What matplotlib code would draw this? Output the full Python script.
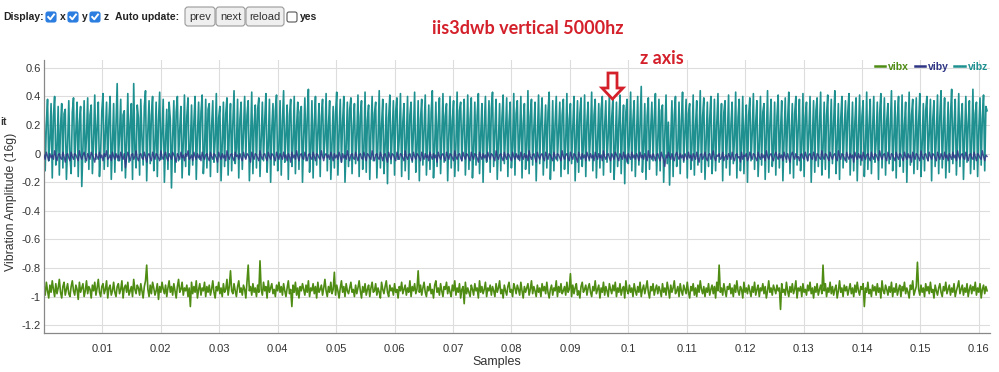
import numpy as np
import matplotlib
matplotlib.use('Agg')
import matplotlib.pyplot as plt
from matplotlib.patches import FancyBboxPatch, Polygon
from matplotlib.lines import Line2D
from matplotlib.transforms import IdentityTransform

# values, ~800 samples over ~0.1614 s
vibz = [
    0.30, -0.12, 0.21, 0.38, -0.05, 0.10, 0.35, -0.17, 0.26, 0.40, -0.08, 0.02, 0.33, -0.15, 0.19, 0.35, -0.10, 0.28, 0.31, -0.18,
    0.06, 0.37, -0.02, -0.14, 0.29, 0.39, -0.09, 0.15, 0.36, -0.16, 0.22, 0.33, -0.23, 0.04, 0.37, -0.06, 0.12, 0.39, -0.11, 0.27,
    0.34, -0.14, 0.09, 0.41, -0.04, 0.18, 0.36, -0.16, 0.01, 0.30, 0.42, -0.11, 0.14, 0.36, -0.09, 0.24, 0.40, -0.18, 0.07, 0.35,
    -0.13, 0.20, 0.49, -0.05, 0.13, 0.38, -0.12, 0.27, 0.30, -0.17, 0.08, 0.42, -0.06, 0.21, 0.35, -0.18, 0.49, 0.03, -0.10, 0.34,
    0.25, -0.15, 0.38, 0.11, -0.08, 0.33, 0.44, -0.19, 0.16, 0.37, -0.07, 0.27, 0.40, -0.12, 0.06, 0.36, -0.16, 0.23, 0.43, -0.04,
    0.14, 0.38, -0.20, 0.09, 0.31, -0.11, 0.36, 0.24, -0.24, 0.12, 0.37, -0.13, 0.29, 0.40, -0.05, 0.17, 0.33, -0.17, 0.08, 0.41,
    -0.09, 0.26, 0.39, -0.15, 0.05, 0.34, -0.08, 0.22, 0.40, -0.18, 0.13, 0.36, -0.04, 0.29, 0.41, -0.14, 0.02, 0.38, -0.10, 0.31,
    0.35, -0.16, 0.19, 0.37, -0.06, 0.10, 0.42, -0.13, 0.25, 0.33, -0.19, 0.07, 0.36, -0.09, 0.28, 0.39, -0.15, 0.16, 0.35, -0.12,
    0.21, 0.44, -0.07, 0.04, 0.38, -0.17, 0.24, 0.36, -0.11, 0.15, 0.40, -0.03, 0.27, 0.37, -0.19, 0.09, 0.43, -0.14, 0.20, 0.34,
    -0.10, 0.31, 0.39, -0.16, 0.11, 0.36, -0.05, 0.23, 0.42, -0.13, 0.06, 0.38, -0.20, 0.17, 0.35, -0.08, 0.30, 0.41, -0.12, 0.03,
    0.37, -0.15, 0.22, 0.44, -0.06, 0.13, 0.34, -0.18, 0.27, 0.38, -0.09, 0.08, 0.40, -0.14, 0.19, 0.36, -0.11, 0.29, 0.33, -0.20,
    0.12, 0.39, -0.05, 0.24, 0.45, -0.13, 0.04, 0.37, -0.17, 0.21, 0.40, -0.08, 0.15, 0.35, -0.16, 0.26, 0.38, -0.03, 0.10, 0.42,
    -0.12, 0.20, 0.37, -0.18, 0.07, 0.33, -0.10, 0.28, 0.43, -0.15, 0.14, 0.38, -0.06, 0.22, 0.40, -0.20, 0.05, 0.36, -0.09, 0.31,
    0.39, -0.14, 0.18, 0.35, -0.07, 0.12, 0.41, -0.16, 0.26, 0.37, -0.11, 0.02, 0.43, -0.13, 0.23, 0.34, -0.18, 0.16, 0.40, -0.05,
    0.28, 0.36, -0.17, 0.09, 0.44, -0.10, 0.20, 0.38, -0.14, 0.06, 0.35, -0.21, 0.25, 0.41, -0.07, 0.13, 0.37, -0.15, 0.30, 0.39,
    -0.04, 0.11, 0.42, -0.16, 0.22, 0.35, -0.12, 0.08, 0.40, -0.18, 0.27, 0.36, -0.06, 0.15, 0.43, -0.13, 0.04, 0.37, -0.19, 0.24,
    0.38, -0.08, 0.17, 0.41, -0.15, 0.10, 0.34, -0.11, 0.29, 0.44, -0.17, 0.05, 0.36, -0.09, 0.21, 0.39, -0.14, 0.12, 0.42, -0.06,
    0.26, 0.35, -0.19, 0.14, 0.40, -0.10, 0.23, 0.37, -0.16, 0.07, 0.43, -0.12, 0.30, 0.36, -0.05, 0.18, 0.38, -0.15, 0.09, 0.41,
    -0.11, 0.24, 0.39, -0.17, 0.03, 0.36, -0.08, 0.27, 0.42, -0.14, 0.13, 0.35, -0.20, 0.19, 0.40, -0.06, 0.10, 0.37, -0.13, 0.32,
    0.43, -0.09, 0.16, 0.38, -0.18, 0.08, 0.35, -0.12, 0.25, 0.41, -0.07, 0.14, 0.39, -0.16, 0.22, 0.36, -0.10, 0.05, 0.42, -0.15,
    0.28, 0.37, -0.04, 0.12, 0.40, -0.17, 0.21, 0.35, -0.11, 0.06, 0.44, -0.14, 0.26, 0.38, -0.08, 0.17, 0.36, -0.19, 0.10, 0.41,
    -0.07, 0.23, 0.39, -0.15, 0.13, 0.34, -0.10, 0.29, 0.43, -0.18, 0.04, 0.37, -0.12, 0.20, 0.40, -0.05, 0.15, 0.36, -0.16, 0.27,
    0.38, -0.11, 0.09, 0.42, -0.14, 0.24, 0.35, -0.07, 0.18, 0.40, -0.19, 0.11, 0.37, -0.13, 0.28, 0.39, -0.09, 0.06, 0.41, -0.16,
    0.22, 0.36, -0.05, 0.14, 0.43, -0.12, 0.27, 0.38, -0.17, 0.08, 0.35, -0.10, 0.31, 0.40, -0.15, 0.19, 0.37, -0.06, 0.12, 0.42,
    -0.13, 0.25, 0.39, -0.18, 0.05, 0.36, -0.09, 0.21, 0.41, -0.14, 0.16, 0.34, -0.21, 0.29, 0.38, -0.07, 0.10, 0.43, -0.12, 0.23,
    0.37, -0.16, 0.13, 0.40, -0.08, 0.20, 0.47, -0.13, 0.06, 0.35, -0.18, 0.26, 0.39, -0.11, 0.17, 0.36, -0.05, 0.24, 0.42, -0.15,
    0.09, 0.38, -0.12, 0.30, 0.34, -0.20, 0.14, 0.41, -0.07, 0.22, -0.22, 0.11, 0.37, -0.16, 0.27, 0.40, -0.09, 0.04, 0.36, -0.14,
    0.23, 0.43, -0.06, 0.15, 0.38, -0.17, 0.28, 0.35, -0.11, 0.07, 0.41, -0.15, 0.19, 0.37, -0.08, 0.12, 0.44, -0.13, 0.26, 0.39,
    -0.18, 0.10, 0.36, -0.09, 0.24, 0.40, -0.14, 0.05, 0.38, -0.12, 0.21, 0.42, -0.06, 0.16, 0.35, -0.19, 0.29, 0.37, -0.10, 0.13,
    0.41, -0.15, 0.20, 0.36, -0.07, 0.11, 0.43, -0.17, 0.25, 0.38, -0.12, 0.08, 0.40, -0.14, 0.18, 0.34, -0.20, 0.27, 0.39, -0.05,
    0.14, 0.42, -0.11, 0.22, 0.37, -0.16, 0.06, 0.40, -0.08, 0.29, 0.35, -0.18, 0.12, 0.44, -0.13, 0.20, 0.38, -0.09, 0.03, 0.36,
    -0.15, 0.26, 0.41, -0.10, 0.16, 0.37, -0.19, 0.09, 0.39, -0.06, 0.23, 0.43, -0.14, 0.13, 0.35, -0.17, 0.28, 0.40, -0.08, 0.18,
    0.38, -0.12, 0.07, 0.42, -0.16, 0.25, 0.36, -0.05, 0.15, 0.40, -0.20, 0.11, 0.37, -0.13, 0.30, 0.39, -0.09, 0.19, 0.43, -0.15,
    0.04, 0.36, -0.11, 0.27, 0.41, -0.17, 0.12, 0.38, -0.07, 0.21, 0.44, -0.14, 0.08, 0.35, -0.18, 0.24, 0.40, -0.10, 0.16, 0.37,
    -0.06, 0.29, 0.42, -0.15, 0.10, 0.36, -0.12, 0.22, 0.39, -0.19, 0.14, 0.41, -0.08, 0.26, 0.37, -0.16, 0.05, 0.43, -0.11, 0.20,
    0.38, -0.14, 0.17, 0.40, -0.06, 0.09, 0.36, -0.18, 0.28, 0.42, -0.10, 0.13, 0.39, -0.15, 0.23, 0.35, -0.07, 0.18, 0.44, -0.12,
    0.11, 0.37, -0.17, 0.25, 0.40, -0.09, 0.06, 0.41, -0.13, 0.20, 0.36, -0.20, 0.15, 0.43, -0.08, 0.27, 0.38, -0.14, 0.10, 0.39,
    -0.11, 0.22, 0.42, -0.16, 0.07, 0.35, -0.12, 0.30, 0.40, -0.05, 0.14, 0.38, -0.19, 0.24, 0.37, -0.09, 0.12, 0.41, -0.14, 0.26,
    0.44, -0.10, 0.16, 0.39, -0.17, 0.08, 0.36, -0.13, 0.27, 0.45, -0.07, 0.19, 0.38, -0.15, 0.11, 0.42, -0.09, 0.23, 0.35, -0.18,
    0.13, 0.40, -0.06, 0.21, 0.37, -0.14, 0.09, 0.45, -0.11, 0.28, 0.36, -0.16, 0.17, 0.39, -0.08, 0.25, 0.41, -0.12, 0.33, 0.30,
]

viby = [
    -0.01, -0.04, 0.01, -0.02, -0.05, 0.00, -0.03, -0.01, -0.04, 0.02, -0.02, -0.05, -0.01, 0.00, -0.03, -0.04, 0.01, -0.02, -0.06, -0.01,
    0.00, -0.03, -0.05, 0.01, -0.02, -0.04, 0.00, -0.01, -0.03, -0.05, 0.02, -0.02, -0.04, -0.01, 0.01, -0.03, -0.05, 0.00, -0.02, -0.04,
    0.01, -0.01, -0.03, -0.06, 0.00, -0.02, -0.04, 0.01, -0.03, -0.01, -0.05, 0.00, -0.02, 0.02, -0.04, -0.03, -0.01, -0.05, 0.01, -0.02,
    -0.04, 0.00, -0.03, -0.01, -0.05, 0.01, -0.02, -0.04, 0.00, -0.10, -0.03, 0.01, -0.02, -0.05, -0.01, 0.00, -0.04, -0.02, 0.02, -0.03,
    -0.05, -0.01, 0.00, -0.03, -0.04, 0.01, -0.02, -0.06, -0.01, 0.00, -0.03, -0.05, 0.01, -0.02, -0.04, 0.00, -0.01, -0.03, -0.05, 0.02,
    -0.02, -0.04, -0.01, 0.01, -0.03, -0.05, 0.00, -0.02, -0.04, 0.01, -0.01, -0.03, -0.06, 0.00, -0.02, -0.04, 0.01, -0.03, -0.01, -0.05,
    0.00, -0.02, 0.02, -0.04, -0.03, -0.01, -0.05, 0.01, -0.02, -0.04, 0.00, -0.03, -0.01, -0.05, 0.01, -0.02, -0.04, -0.01, 0.00, -0.03,
    -0.05, 0.01, -0.02, -0.04, 0.00, -0.01, -0.03, -0.06, 0.01, -0.02, -0.04, 0.00, -0.03, -0.01, -0.05, 0.02, -0.02, -0.04, -0.01, 0.00,
    -0.03, -0.05, 0.01, -0.02, -0.01, -0.04, 0.00, -0.03, -0.05, 0.01, -0.02, -0.04, 0.00, -0.01, -0.03, -0.06, 0.01, -0.02, -0.04, 0.00,
    -0.01, -0.03, -0.05, 0.02, -0.02, -0.04, -0.01, 0.00, -0.03, -0.05, 0.01, -0.02, -0.04, 0.00, -0.01, -0.03, -0.05, 0.01, -0.02, -0.04,
    0.00, -0.02, -0.04, 0.01, -0.03, -0.01, -0.05, 0.00, -0.02, -0.06, 0.01, -0.03, -0.01, -0.04, 0.02, -0.02, -0.05, -0.01, 0.00, -0.03,
    -0.04, 0.01, -0.02, -0.05, -0.01, 0.00, -0.03, -0.04, 0.01, -0.02, -0.05, 0.00, -0.01, -0.03, -0.04, 0.02, -0.02, -0.05, -0.01, 0.00,
    -0.03, -0.01, -0.04, 0.01, -0.02, -0.05, 0.00, -0.03, -0.01, -0.04, 0.01, -0.02, -0.06, 0.00, -0.03, -0.01, -0.04, 0.02, -0.02, -0.05,
    -0.01, 0.00, -0.03, -0.04, 0.01, -0.02, -0.05, -0.01, 0.00, -0.03, -0.04, 0.01, -0.02, -0.05, 0.00, -0.01, -0.03, -0.04, 0.02, -0.02,
    -0.05, -0.01, 0.00, -0.03, -0.04, 0.01, -0.02, -0.05, -0.01, 0.00, -0.03, -0.06, 0.01, -0.02, -0.04, 0.00, -0.01, -0.03, -0.05, 0.01,
    -0.02, -0.04, 0.00, -0.01, -0.03, -0.05, 0.02, -0.02, -0.04, -0.01, 0.00, -0.03, -0.05, 0.01, -0.02, -0.04, 0.00, -0.01, -0.03, -0.05,
    0.01, -0.02, -0.04, 0.00, -0.03, -0.01, -0.05, 0.01, -0.02, -0.04, 0.00, -0.03, -0.01, -0.06, 0.01, -0.02, -0.04, -0.01, 0.00, -0.03,
    -0.05, 0.01, -0.02, -0.04, 0.00, -0.01, -0.03, -0.05, 0.02, -0.02, -0.04, -0.01, 0.00, -0.03, -0.05, 0.01, -0.02, -0.04, 0.00, -0.01,
    -0.03, -0.05, 0.01, -0.02, -0.04, 0.00, -0.01, -0.03, -0.06, 0.01, -0.02, -0.04, 0.00, -0.03, -0.01, -0.05, 0.01, -0.02, -0.04, 0.00,
    -0.01, -0.03, -0.05, 0.02, -0.02, -0.04, -0.01, 0.00, -0.03, -0.05, 0.01, -0.02, -0.04, 0.00, -0.01, -0.03, -0.05, 0.01, -0.02, -0.04,
    0.00, -0.03, -0.01, -0.05, 0.01, -0.02, -0.04, 0.00, -0.03, -0.01, -0.05, 0.02, -0.02, -0.04, -0.01, 0.00, -0.03, -0.06, 0.01, -0.02,
    -0.04, -0.01, 0.00, -0.03, -0.05, 0.01, -0.02, -0.04, 0.00, -0.01, -0.03, -0.05, 0.01, -0.02, -0.04, 0.00, -0.01, -0.03, -0.05, 0.02,
    -0.02, -0.04, -0.01, 0.00, -0.03, -0.05, 0.01, -0.02, -0.04, 0.00, -0.01, -0.03, -0.06, 0.01, -0.02, -0.04, 0.00, -0.03, -0.01, -0.05,
    0.01, -0.02, -0.04, 0.00, -0.03, -0.01, -0.05, 0.01, -0.02, -0.04, 0.00, -0.03, -0.01, -0.05, 0.02, -0.02, -0.04, -0.01, 0.00, -0.03,
    -0.05, 0.00, -0.02, -0.04, 0.01, -0.01, -0.03, -0.05, 0.00, -0.02, -0.04, 0.01, -0.03, -0.01, -0.06, 0.00, -0.02, -0.04, 0.01, -0.03,
    -0.01, -0.04, 0.00, -0.02, -0.05, 0.01, -0.03, -0.01, -0.04, 0.00, -0.02, -0.05, 0.02, -0.03, -0.01, -0.04, 0.00, -0.02, -0.05, -0.01,
    0.00, -0.03, -0.05, 0.01, -0.02, -0.04, -0.09, -0.01, -0.03, 0.01, -0.02, -0.04, 0.00, -0.03, -0.05, -0.01, 0.01, -0.02, -0.04, 0.00,
    -0.03, -0.01, -0.05, 0.00, -0.02, -0.04, 0.01, -0.03, -0.01, -0.05, 0.00, -0.02, -0.04, 0.01, -0.03, -0.06, -0.01, 0.00, -0.04, -0.02,
    0.01, -0.03, -0.05, -0.01, 0.00, -0.04, -0.02, 0.02, -0.03, -0.05, -0.01, -0.02, 0.00, -0.04, -0.03, 0.01, -0.05, -0.02, -0.01, -0.04,
    0.00, -0.02, -0.04, 0.01, -0.03, -0.05, -0.01, 0.00, -0.03, -0.02, -0.06, 0.01, -0.04, -0.01, -0.02, 0.00, -0.05, -0.03, 0.01, -0.02,
    -0.04, 0.00, -0.01, -0.03, -0.05, 0.01, -0.02, -0.04, 0.00, -0.03, -0.01, -0.05, 0.02, -0.02, -0.04, -0.01, 0.00, -0.03, -0.05, -0.01,
    0.01, -0.02, -0.04, 0.00, -0.03, -0.01, -0.05, 0.01, -0.02, -0.04, 0.00, -0.03, -0.06, -0.01, 0.01, -0.02, -0.04, 0.00, -0.03, -0.02,
    -0.05, -0.01, 0.00, -0.03, -0.04, 0.01, -0.02, -0.05, -0.01, 0.00, -0.03, -0.04, 0.01, -0.02, -0.05, 0.00, -0.01, -0.03, -0.04, 0.02,
    -0.02, -0.04, 0.00, -0.01, -0.03, -0.05, 0.01, -0.02, -0.04, -0.01, 0.00, -0.03, -0.05, 0.02, -0.02, -0.04, 0.00, -0.01, -0.03, -0.05,
    0.01, -0.02, -0.04, 0.00, -0.03, -0.01, -0.06, 0.01, -0.02, -0.04, 0.00, -0.03, -0.01, -0.05, 0.01, -0.02, -0.04, -0.01, 0.00, -0.03,
    -0.05, 0.01, -0.02, -0.04, 0.00, -0.01, -0.03, -0.05, 0.02, -0.02, -0.04, -0.01, 0.00, -0.03, -0.05, 0.01, -0.02, -0.04, 0.00, -0.01,
    -0.03, -0.05, 0.01, -0.02, -0.04, 0.00, -0.01, -0.03, -0.05, 0.01, -0.02, -0.04, 0.00, -0.03, -0.01, -0.06, 0.01, -0.02, -0.04, 0.00,
    -0.01, -0.03, -0.05, 0.02, -0.02, -0.04, -0.01, 0.00, -0.03, -0.05, 0.01, -0.02, -0.04, 0.00, -0.01, -0.03, -0.05, 0.01, -0.02, -0.04,
    0.00, -0.02, -0.04, 0.01, -0.03, -0.01, -0.05, 0.00, -0.02, -0.04, 0.01, -0.03, -0.01, -0.05, 0.02, -0.02, -0.04, -0.01, 0.00, -0.03,
    -0.04, 0.01, -0.02, -0.05, -0.01, 0.00, -0.03, -0.04, 0.01, -0.02, -0.05, 0.00, -0.01, -0.03, -0.04, 0.02, -0.02, -0.05, -0.01, -0.02,
]

vibx = [
    -0.93, -0.99, -0.90, -0.96, -1.01, -0.92, -0.97, -0.89, -0.95, -1.00, -0.91, -0.98, -0.94, -0.88, -0.97, -1.01, -0.93, -0.90, -0.99, -0.95,
    -0.91, -0.98, -1.00, -0.93, -0.89, -0.96, -0.99, -0.92, -0.95, -1.02, -0.90, -0.97, -0.94, -0.91, -1.00, -0.96, -0.89, -0.98, -0.93, -0.95,
    -1.01, -0.92, -0.96, -0.90, -0.99, -0.94, -0.88, -0.97, -1.00, -0.93, -0.91, -0.98, -0.95, -0.89, -1.01, -0.94, -0.92, -0.99, -0.96, -0.90,
    -0.97, -1.00, -0.93, -0.91, -0.98, -0.95, -0.89, -1.01, -0.94, -0.92, -0.97, -0.90, -0.99, -0.96, -0.93, -1.00, -0.88, -0.95, -0.98, -0.92,
    -0.94, -0.99, -0.91, -0.96, -1.01, -0.93, -0.89, -0.78, -0.95, -1.00, -0.92, -0.98, -0.90, -0.94, -0.99, -0.96, -0.91, -1.02, -0.93, -0.97,
    -0.90, -0.95, -0.98, -0.92, -1.00, -0.94, -0.89, -0.97, -0.93, -0.99, -0.91, -0.96, -1.01, -0.93, -0.88, -0.97, -0.95, -0.90, -0.99, -0.94,
    -0.96, -0.92, -1.00, -0.94, -1.07, -0.90, -0.98, -0.93, -0.97, -0.89, -1.01, -0.95, -0.91, -0.99, -0.94, -0.96, -0.90, -1.00, -0.93, -0.97,
    -0.92, -0.99, -0.95, -0.89, -0.97, -1.01, -0.93, -0.96, -0.90, -0.98, -0.94, -1.00, -0.91, -0.97, -0.95, -0.88, -0.99, -0.93, -0.82, -0.96,
    -0.98, -0.91, -0.96, -1.00, -0.93, -0.89, -0.97, -0.94, -0.99, -0.92, -0.95, -1.01, -0.90, -0.78, -0.96, -0.93, -0.99, -0.91, -0.97, -0.94,
    -1.00, -0.92, -0.97, -0.75, -0.95, -0.99, -0.90, -0.96, -0.93, -1.01, -0.89, -0.97, -0.94, -0.91, -0.98, -0.95, -1.00, -0.92, -0.96, -0.90,
    -0.97, -0.93, -0.99, -0.91, -0.96, -1.00, -0.94, -0.89, -0.98, -0.95, -1.07, -0.92, -0.97, -0.90, -0.99, -0.94, -1.01, -0.93, -0.96, -0.91,
    -0.95, -0.99, -0.92, -0.97, -0.89, -1.00, -0.94, -0.96, -0.91, -0.98, -0.93, -1.01, -0.90, -0.97, -0.95, -0.92, -0.99, -0.94, -0.88, -0.96,
    -1.00, -0.93, -0.97, -0.90, -0.98, -0.95, -0.83, -0.99, -0.92, -0.96, -1.01, -0.94, -0.89, -0.97, -0.93, -1.00, -0.91, -0.96, -0.98, -0.94,
    -0.90, -0.97, -0.95, -1.00, -0.92, -0.98, -0.94, -0.89, -0.96, -1.01, -0.93, -0.97, -0.91, -0.99, -0.95, -0.92, -1.00, -0.94, -0.90, -0.97,
    -0.96, -0.91, -0.99, -0.94, -0.97, -1.01, -0.90, -0.95, -0.98, -0.93, -0.89, -0.97, -1.00, -0.92, -0.96, -0.94, -0.99, -0.91, -0.97, -0.95,
    -1.01, -0.93, -0.96, -0.90, -0.98, -0.95, -0.92, -0.99, -0.94, -0.97, -0.89, -1.00, -0.93, -0.96, -0.91, -0.98, -0.95, -0.82, -0.97, -0.92,
    -0.99, -0.94, -0.90, -0.97, -1.00, -0.93, -0.96, -0.91, -0.98, -0.95, -1.01, -0.92, -0.89, -0.97, -0.94, -0.99, -0.91, -0.96, -1.00, -0.93,
    -0.95, -0.90, -0.98, -0.93, -0.97, -1.00, -0.92, -0.96, -0.89, -0.99, -0.94, -0.97, -0.91, -1.01, -0.95, -0.93, -1.05, -0.90, -0.98, -0.94,
    -0.97, -1.00, -0.92, -0.95, -0.99, -0.91, -0.96, -0.94, -1.01, -0.89, -0.97, -0.93, -0.98, -0.95, -0.90, -1.00, -0.94, -0.96, -0.92, -0.99,
    -0.93, -0.96, -1.00, -0.91, -0.97, -0.94, -0.89, -0.98, -0.95, -1.01, -0.92, -0.96, -0.99, -0.93, -0.90, -0.97, -0.95, -1.00, -0.91, -0.94,
    -0.98, -0.92, -0.95, -0.99, -0.90, -0.96, -1.01, -0.93, -0.97, -0.94, -0.91, -0.99, -0.95, -0.89, -0.98, -0.93, -0.96, -1.00, -0.92, -0.97,
    -0.94, -1.00, -0.91, -0.96, -0.93, -0.98, -0.90, -0.97, -1.01, -0.95, -0.92, -0.99, -0.94, -0.96, -0.89, -1.00, -0.93, -0.97, -0.91, -0.98,
    -0.96, -0.93, -0.99, -0.90, -0.97, -0.95, -0.84, -1.00, -0.92, -0.98, -0.94, -0.91, -0.99, -0.96, -1.01, -0.93, -0.90, -0.97, -0.95, -0.92,
    -0.99, -0.94, -0.91, -0.97, -1.00, -0.93, -0.96, -0.89, -0.98, -0.95, -0.92, -1.01, -0.94, -0.97, -0.90, -0.99, -0.93, -0.96, -1.00, -0.91,
    -0.95, -0.98, -0.92, -0.96, -0.90, -1.00, -0.94, -0.97, -0.91, -0.99, -0.95, -0.93, -1.01, -0.89, -0.96, -0.98, -0.92, -0.97, -0.94, -1.00,
    -0.91, -0.96, -0.99, -0.93, -0.97, -0.90, -1.00, -0.95, -0.92, -0.98, -0.94, -0.89, -0.97, -1.01, -0.93, -0.96, -0.91, -0.99, -0.95, -0.92,
    -0.98, -0.93, -0.96, -1.00, -0.91, -0.97, -0.94, -0.99, -0.90, -0.95, -1.01, -0.92, -0.97, -0.94, -0.89, -0.98, -0.96, -0.93, -1.00, -0.91,
    -0.96, -0.99, -0.92, -0.95, -0.98, -0.90, -0.97, -1.01, -0.93, -0.96, -0.91, -0.99, -0.94, -1.00, -0.92, -0.97, -0.89, -0.95, -0.98, -0.93,
    -1.00, -0.94, -0.97, -0.91, -0.99, -0.95, -0.92, -0.98, -0.93, -1.01, -0.90, -0.96, -0.78, -0.97, -0.94, -0.99, -0.91, -0.96, -1.00, -0.93,
    -0.95, -0.91, -0.98, -0.94, -1.00, -0.92, -0.97, -0.89, -0.96, -0.99, -0.93, -0.95, -1.01, -0.90, -0.97, -0.94, -0.98, -0.92, -0.96, -1.00,
    -0.93, -0.97, -0.90, -0.99, -0.95, -0.92, -1.00, -0.94, -0.96, -0.91, -0.98, -0.93, -1.01, -0.96, -0.89, -0.97, -0.94, -0.99, -0.92, -0.95,
    -0.98, -0.92, -0.96, -0.94, -1.09, -0.91, -0.97, -0.95, -0.99, -0.90, -0.96, -1.00, -0.93, -0.97, -0.91, -0.98, -0.95, -0.89, -1.01, -0.94,
    -0.96, -0.93, -1.00, -0.91, -0.97, -0.95, -0.99, -0.92, -0.96, -0.90, -0.98, -0.94, -1.01, -0.93, -0.97, -0.91, -0.99, -0.95, -0.92, -0.98,
    -0.78, -0.96, -0.91, -1.00, -0.94, -0.97, -0.90, -0.98, -0.93, -0.99, -0.95, -0.92, -1.01, -0.96, -0.89, -0.97, -0.94, -1.00, -0.92, -0.96,
    -0.93, -0.99, -0.95, -0.91, -0.98, -0.94, -1.00, -0.92, -0.97, -0.90, -0.96, -0.99, -0.93, -0.95, -0.91, -1.07, -0.94, -0.97, -0.90, -0.98,
    -0.95, -1.00, -0.92, -0.96, -0.93, -0.99, -0.91, -0.97, -0.94, -1.01, -0.89, -0.96, -0.98, -0.92, -0.95, -0.99, -0.93, -0.97, -0.90, -1.00,
    -0.94, -0.97, -0.91, -0.99, -0.95, -0.92, -1.00, -0.93, -0.96, -0.90, -0.98, -0.94, -0.97, -1.01, -0.92, -0.95, -0.89, -0.99, -0.96, -0.93,
    -0.76, -0.95, -0.99, -0.92, -0.97, -0.94, -1.00, -0.91, -0.96, -0.93, -0.98, -0.90, -0.97, -0.95, -1.01, -0.92, -0.96, -0.99, -0.94, -0.91,
    -0.97, -1.00, -0.93, -0.96, -0.90, -0.98, -0.95, -0.92, -0.99, -0.94, -0.97, -0.91, -1.00, -0.96, -0.93, -0.89, -0.98, -0.95, -0.92, -0.99,
    -0.94, -0.97, -0.91, -1.00, -0.95, -0.92, -0.98, -0.93, -0.96, -0.90, -0.99, -0.94, -0.97, -0.91, -1.01, -0.95, -0.92, -0.98, -0.93, -0.96,
]

duration = 0.1614
x_ticks = [0.01, 0.02, 0.03, 0.04, 0.05, 0.06, 0.07, 0.08, 0.09, 0.1, 0.11, 0.12, 0.13, 0.14, 0.15, 0.16]
y_ticks = [0.6, 0.4, 0.2, 0.0, -0.2, -0.4, -0.6, -0.8, -1.0, -1.2]

plt.rcParams['font.family'] = ['Liberation Sans', 'DejaVu Sans']

W, H = 999, 372
fig = plt.figure(figsize=(W / 100, H / 100), dpi=100)
ax = fig.add_axes([44 / W, 1 - 333 / H, (990 - 44) / W, (333 - 60) / H])

lx, = ax.plot(np.linspace(0, duration, len(vibx)), vibx, color='#4f8c14', lw=1.2, label='vibx', zorder=2)
lz, = ax.plot(np.linspace(0, duration, len(vibz)), vibz, color='#1f9090', lw=1.2, label='vibz', zorder=2)
ly, = ax.plot(np.linspace(0, duration, len(viby)), viby, color='#2f3585', lw=1.0, alpha=0.85,
              label='viby', zorder=3)

ax.set_xlim(0, 0.1619)
ax.set_ylim(-1.255, 0.655)
ax.set_xticks(x_ticks, labels=[f'{v:g}' for v in x_ticks])
ax.set_yticks(y_ticks, labels=[f'{v:g}' for v in y_ticks])
ax.tick_params(length=0, labelsize=8, labelcolor='#333333')
ax.tick_params(axis='y', pad=2.5)
ax.tick_params(axis='x', pad=8)
ax.grid(True, color='#dddddd', lw=0.8)
ax.set_axisbelow(True)
for s in ['top', 'right']:
    ax.spines[s].set_visible(False)
for s in ['left', 'bottom']:
    ax.spines[s].set_color('#888888')
    ax.spines[s].set_linewidth(0.9)

ax.set_ylabel('Vibration Amplitude (16g)', size=8.8, color='#333333')
ax.yaxis.set_label_coords(-0.029, 0.48)
ax.set_xlabel('Samples', size=9, color='#333333')
ax.xaxis.set_label_coords(0.479, -0.084)

leg = ax.legend(handles=[lx, ly, lz], loc='upper right', bbox_to_anchor=(1.0, 1.0),
                ncol=3, frameon=False, handlelength=1.0, handletextpad=0.3,
                columnspacing=0.5, borderaxespad=0.1, borderpad=0.1,
                labelcolor='linecolor', prop={'weight': 'bold', 'size': 7.5})
for h in leg.legend_handles:
    h.set_linewidth(1.8)
    h.set_alpha(1)


def fx(px):
    return px / W


def fy(py):
    return 1 - py / H


pix = IdentityTransform()


def box(x0, y0, w, h, fc, ec, r=2):
    fig.add_artist(FancyBboxPatch((x0, H - y0 - h), w, h,
                                  boxstyle=f'round,pad=0,rounding_size={r}',
                                  fc=fc, ec=ec, lw=0.8, transform=pix))


def checkbox(x0, checked=True):
    if checked:
        box(x0, 12, 10, 10, '#2b7de0', '#2b7de0')
        fig.add_artist(Line2D([x0 + 2.2, x0 + 4.3, x0 + 8], [H - 17, H - 19.3, H - 14.5],
                              color='white', lw=1.4, transform=pix))
    else:
        box(x0, 12, 10, 10, 'white', '#555555')


# html controls above the chart
ctl = dict(size=7.5, weight='bold', color='#222222', va='center', ha='left')
fig.text(fx(3), fy(17), 'Display:', **ctl)
checkbox(46)
fig.text(fx(60), fy(17), 'x', **ctl)
checkbox(68)
fig.text(fx(82), fy(17), 'y', **ctl)
checkbox(90)
fig.text(fx(104), fy(17), 'z', **ctl)
fig.text(fx(115), fy(17), 'Auto update:', **ctl)
for bx, bw, name in [(185, 30, 'prev'), (216, 29, 'next'), (246, 38, 'reload')]:
    box(bx, 7, bw, 19, '#efefef', '#9a9a9a', r=3)
    fig.text(fx(bx + bw / 2), fy(17), name, size=8, color='#333333', ha='center', va='center')
checkbox(287, checked=False)
fig.text(fx(300), fy(17), 'yes', **ctl)

fig.text(fx(0), fy(122), 'it', size=7.5, weight='bold', color='#333333', ha='left', va='center')

# red annotations
red = '#d4202a'
fig.text(fx(528), fy(28), 'iis3dwb vertical 5000hz', color=red, weight='bold',
         size=13, family=['Lato', 'DejaVu Sans'], ha='center', va='center')
fig.text(fx(662), fy(58), 'z axis', color=red, weight='bold',
         size=13, family=['Lato', 'DejaVu Sans'], ha='center', va='center')
arrow = [(608, 73), (617, 73), (617, 88), (623, 88), (612.5, 99), (602, 88), (608, 88)]
fig.add_artist(Polygon([(px, H - py) for px, py in arrow], closed=True, fc='white',
                       ec=red, lw=2, transform=pix, zorder=10))

fig.savefig('out.png', dpi=100)
